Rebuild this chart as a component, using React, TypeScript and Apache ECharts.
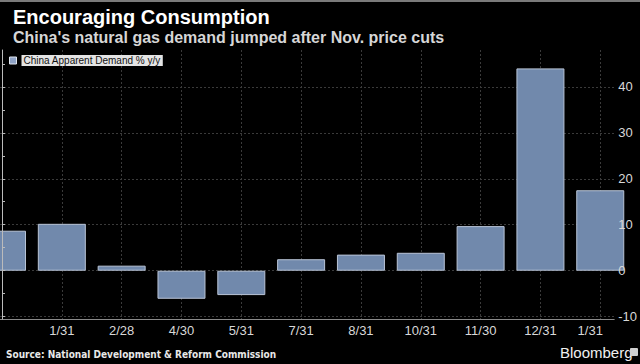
import React, { useEffect, useRef } from "react";
import * as echarts from "echarts";

const categories = ["12/31", "1/31", "2/28", "4/30", "5/31", "7/31", "8/31", "10/31", "11/30", "12/31", "1/31"];
const demandYoY = [8.7, 10.2, 1.1, -6.1, -5.3, 2.5, 3.5, 3.9, 9.7, 44.0, 17.5];
const shownLabelIdx = [1, 2, 3, 4, 5, 6, 7, 8, 9, 10];
const gridIdx = [0, 1, 2, 3, 4, 5, 6, 7, 8, 9, 10];
const yLabels = [-10, 0, 10, 20, 30, 40];
const yTicks = [-10, -5, 0, 5, 10, 15, 20, 25, 30, 35, 40, 45];

export default function App() {
  const ref = useRef<HTMLDivElement>(null);
  useEffect(() => {
    document.body.style.margin = "0";
    document.body.style.background = "#000";
    const chart = echarts.init(ref.current!, null, { renderer: "svg" });
    const font = "'Liberation Sans', Arial, sans-serif";
    chart.setOption({
      animation: false,
      backgroundColor: "#000",
      title: {
        text: "Encouraging Consumption",
        subtext: "China's natural gas demand jumped after Nov. price cuts",
        left: 13,
        top: 5,
        itemGap: 0,
        padding: 0,
        textStyle: { color: "#fff", fontSize: 20, lineHeight: 23, fontWeight: "bold", fontFamily: font },
        subtextStyle: { color: "#d6d6d6", fontSize: 16, lineHeight: 18, fontWeight: "bold", fontFamily: font },
      },
      legend: {
        left: 4,
        top: 50,
        itemWidth: 7,
        itemHeight: 7,
        icon: "rect",
        data: [{ name: "China Apparent Demand % y/y", itemStyle: { color: "#8ea2c5", borderColor: "#dfe5ef", borderWidth: 1 } }],
        textStyle: {
          color: "#111",
          backgroundColor: "#e4e4e4",
          padding: [1, 2, 0, 2],
          fontSize: 10,
          fontFamily: font,
        },
      },
      grid: { left: 0, right: 24, top: 50, bottom: 45 },
      xAxis: {
        type: "value",
        min: -2 / 60,
        max: 614 / 60,
        axisLine: { show: true, onZero: false, lineStyle: { color: "#8a8a8a", width: 1 } },
        axisTick: { show: false, customValues: gridIdx },
        axisLabel: {
          customValues: shownLabelIdx,
          color: "#d8d8d8",
          fontSize: 13,
          fontFamily: font,
          margin: 5,
          formatter: (v: number) => {
            const i = Math.round(v);
            return i === 10 ? "{last|" + categories[i] + "}" : categories[i];
          },
          rich: { last: { padding: [0, 20, 0, 0], color: "#d8d8d8", fontSize: 13, fontFamily: font } },
        },
        splitLine: { show: true, lineStyle: { color: "#3a3a3a", type: [2, 2], width: 1 } },
      },
      yAxis: [
        {
          type: "value",
          position: "right",
          min: -10.5,
          max: 48,
          axisLine: { show: true, lineStyle: { color: "#bbbbbb", width: 1 } },
          axisTick: { show: true, inside: false, length: 3, customValues: yTicks, lineStyle: { color: "#bbbbbb" } },
          axisLabel: { customValues: yLabels, color: "#d8d8d8", fontSize: 13, fontFamily: font, margin: 4 },
          splitLine: { show: false },
          z: 5,
        },
        {
          type: "value",
          position: "right",
          min: -10.5,
          max: 48,
          axisLine: { show: false },
          axisTick: { show: false, customValues: yLabels },
          axisLabel: { show: false, customValues: yLabels },
          splitLine: { show: true, lineStyle: { color: "#3a3a3a", type: [2, 2], width: 1 } },
        },
      ],
      series: [
        {
          name: "China Apparent Demand % y/y",
          type: "bar",
          yAxisIndex: 0,
          barWidth: 48,
          clip: true,
          data: demandYoY.map((v, i) => [i, v]),
          itemStyle: { color: "#7189ac", borderColor: "#b9c4d6", borderWidth: 1 },
        },
      ],
      graphic: [
        { type: "rect", shape: { x: 0, y: 0, width: 640, height: 2 }, style: { fill: "#7a7a7a" } },
        {
          type: "text",
          left: 6,
          top: 349,
          style: {
            text: "Source: National Development & Reform Commission",
            fill: "#e8e8e8",
            font: "bold 10px 'DejaVu Sans Condensed', 'DejaVu Sans', sans-serif",
          },
        },
        {
          type: "text",
          left: 560,
          top: 345,
          style: { text: "Bloomberg", fill: "#f0f0f0", font: "15px 'Liberation Sans', Arial, sans-serif" },
        },
        { type: "rect", shape: { x: 630, y: 348, width: 8, height: 8, r: 1 }, style: { fill: "#cfcfcf" } },
      ],
    });
    return () => chart.dispose();
  }, []);
  return <div ref={ref} style={{ width: 640, height: 364 }} />;
}
